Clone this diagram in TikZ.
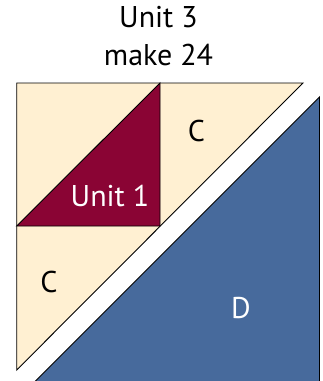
\documentclass[tikz,border=0pt]{standalone}
\usepackage{fontspec}
\setmainfont{PT Sans}
\definecolor{cream}{HTML}{FFF0D2}
\definecolor{burgundy}{HTML}{8A0434}
\definecolor{quiltblue}{HTML}{476A9C}
\tikzset{
  piece/.style={draw=black, line width=0.9pt, line join=miter},
  lbl/.style={inner sep=0pt, anchor=base, font=\fontsize{30}{36}\selectfont},
}
\begin{document}
\begin{tikzpicture}[x=1pt, y=-1pt]
\useasboundingbox (0,0) rectangle (323,381);
\clip (0,0) rectangle (323,381);
% corners
\coordinate (tl) at (16.7,83);
\coordinate (tr) at (303,83);
\coordinate (bl) at (16.7,370);
\coordinate (ut) at (160,83);
\coordinate (ul) at (16.7,226);
\coordinate (ur) at (160,226);
\coordinate (dt) at (319.5,97);
\coordinate (dr) at (319.5,400);
\coordinate (dl) at (16.5,400);
% C pieces
\fill[cream] (tl) -- (tr) -- (bl) -- cycle;
% Unit 1
\fill[burgundy] (ul) -- (ut) -- (ur) -- cycle;
\draw[piece] (tl) -- (tr) -- (bl) -- cycle;
\draw[piece] (ul) -- (ut) -- (ur) -- cycle;
% D
\draw[piece, fill=quiltblue] (dt) -- (dr) -- (dl) -- cycle;
% labels
\node[lbl] (t1) at (158.5,27.3) {Unit 3};
\node[lbl] (t2) at (158.5,65) {make 24};
\node[lbl] (c1) at (196.5,141.7) {C};
\node[lbl, text=white] (u1) at (110,206.5) {Unit 1};
\node[lbl] (c2) at (49,292) {C};
\node[lbl, text=white] (d) at (241,318) {D};
\end{tikzpicture}
\end{document}
